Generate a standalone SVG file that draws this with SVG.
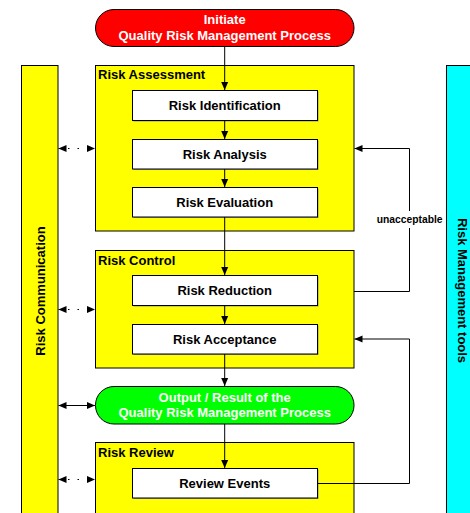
<svg xmlns="http://www.w3.org/2000/svg" width="470" height="513" viewBox="0 0 470 513">
<style>
text{font-family:"Liberation Sans",Arial,sans-serif;font-weight:bold;font-size:13px}
.c{text-anchor:middle}
.w{fill:#fff}
.grp{fill:#ffff00;stroke:#000;stroke-width:1}
.box{fill:#fff;stroke:#000;stroke-width:1}
.sh{fill:#909090}
.ln{fill:none;stroke:#000;stroke-width:1}
.dot{fill:none;stroke:#000;stroke-width:1;stroke-dasharray:1.5 8}
</style>
<defs>
<marker id="ah" viewBox="0 0 8 8" refX="8" refY="4" markerWidth="8" markerHeight="8" orient="auto" markerUnits="userSpaceOnUse">
<path d="M0,0.5 L8,4 L0,7.5 Z" fill="#000"/>
</marker>
<marker id="as" viewBox="0 0 8 8" refX="0" refY="4" markerWidth="8" markerHeight="8" orient="auto" markerUnits="userSpaceOnUse">
<path d="M8,0.5 L0,4 L8,7.5 Z" fill="#000"/>
</marker>
</defs>

<g id="risk-communication">
<rect x="21.5" y="65.5" width="36.5" height="460" class="grp"/>
<text transform="translate(44.5,291) rotate(-90)" class="c">Risk Communication</text>
</g>

<g id="risk-management-tools">
<rect x="446.5" y="65.5" width="40" height="460" fill="#00ffff" stroke="#000"/>
<text transform="translate(458,290.5) rotate(90)" class="c">Risk Management tools</text>
</g>

<g id="risk-assessment">
<rect x="95.5" y="65.5" width="258.5" height="165.5" class="grp"/>
<text x="98" y="79">Risk Assessment</text>
</g>
<g id="risk-control">
<rect x="95.5" y="250.5" width="258.5" height="117.5" class="grp"/>
<text x="98" y="265">Risk Control</text>
</g>
<g id="risk-review">
<rect x="95.5" y="442.5" width="258.5" height="90" class="grp"/>
<text x="98" y="456.5">Risk Review</text>
</g>

<g id="initiate">
<rect x="95.5" y="9.5" width="258.5" height="37" rx="18.5" fill="#ff0000" stroke="#000"/>
<text x="224.7" y="24.3" class="c w">Initiate</text>
<text x="224.7" y="39.5" class="c w">Quality Risk Management Process</text>
</g>

<g id="risk-identification">
<rect x="133.5" y="91.5" width="185" height="30" class="sh"/>
<rect x="132.5" y="90.5" width="185" height="30" class="box"/>
<text x="224.7" y="110" class="c">Risk Identification</text>
</g>
<g id="risk-analysis">
<rect x="133.5" y="140.5" width="185" height="29.5" class="sh"/>
<rect x="132.5" y="139.5" width="185" height="29.5" class="box"/>
<text x="224.7" y="159" class="c">Risk Analysis</text>
</g>
<g id="risk-evaluation">
<rect x="133.5" y="188.5" width="185" height="29.5" class="sh"/>
<rect x="132.5" y="187.5" width="185" height="29.5" class="box"/>
<text x="224.7" y="206.8" class="c">Risk Evaluation</text>
</g>
<g id="risk-reduction">
<rect x="133.5" y="276.5" width="185" height="30" class="sh"/>
<rect x="132.5" y="275.5" width="185" height="30" class="box"/>
<text x="224.7" y="295.3" class="c">Risk Reduction</text>
</g>
<g id="risk-acceptance">
<rect x="133.5" y="325.5" width="185" height="29.5" class="sh"/>
<rect x="132.5" y="324.5" width="185" height="29.5" class="box"/>
<text x="224.7" y="343.8" class="c">Risk Acceptance</text>
</g>

<g id="output">
<rect x="95.5" y="386.5" width="258.5" height="37.5" rx="18.5" fill="#00ff00" stroke="#000"/>
<text x="224.7" y="402" class="c w">Output / Result of the</text>
<text x="224.7" y="417" class="c w">Quality Risk Management Process</text>
</g>

<g id="review-events">
<rect x="133.5" y="469.5" width="185" height="29.5" class="sh"/>
<rect x="132.5" y="468.5" width="185" height="29.5" class="box"/>
<text x="224.7" y="487.8" class="c">Review Events</text>
</g>

<g id="connectors">
<line x1="224.7" y1="47" x2="224.7" y2="90" class="ln" marker-end="url(#ah)"/>
<line x1="224.7" y1="121" x2="224.7" y2="139" class="ln" marker-end="url(#ah)"/>
<line x1="224.7" y1="169" x2="224.7" y2="187" class="ln" marker-end="url(#ah)"/>
<line x1="224.7" y1="217" x2="224.7" y2="275" class="ln" marker-end="url(#ah)"/>
<line x1="224.7" y1="306" x2="224.7" y2="324" class="ln" marker-end="url(#ah)"/>
<line x1="224.7" y1="354" x2="224.7" y2="386" class="ln" marker-end="url(#ah)"/>
<line x1="224.7" y1="424" x2="224.7" y2="468" class="ln" marker-end="url(#ah)"/>

<polyline points="354,291.5 409.5,291.5 409.5,228" class="ln"/>
<polyline points="409.5,211 409.5,148.5 354.5,148.5" class="ln" marker-end="url(#ah)"/>
<text x="409.7" y="222.7" class="c" style="font-size:10.3px">unacceptable</text>

<polyline points="318,483.5 409.5,483.5 409.5,339 354.5,339" class="ln" marker-end="url(#ah)"/>

<line x1="58.5" y1="148.5" x2="95" y2="148.5" class="dot" marker-start="url(#as)" marker-end="url(#ah)"/>
<line x1="58.5" y1="309.5" x2="95" y2="309.5" class="dot" marker-start="url(#as)" marker-end="url(#ah)"/>
<line x1="58.5" y1="479.5" x2="95" y2="479.5" class="dot" marker-start="url(#as)" marker-end="url(#ah)"/>
<line x1="58.5" y1="405.5" x2="95" y2="405.5" class="ln" marker-start="url(#as)" marker-end="url(#ah)"/>
</g>
</svg>
